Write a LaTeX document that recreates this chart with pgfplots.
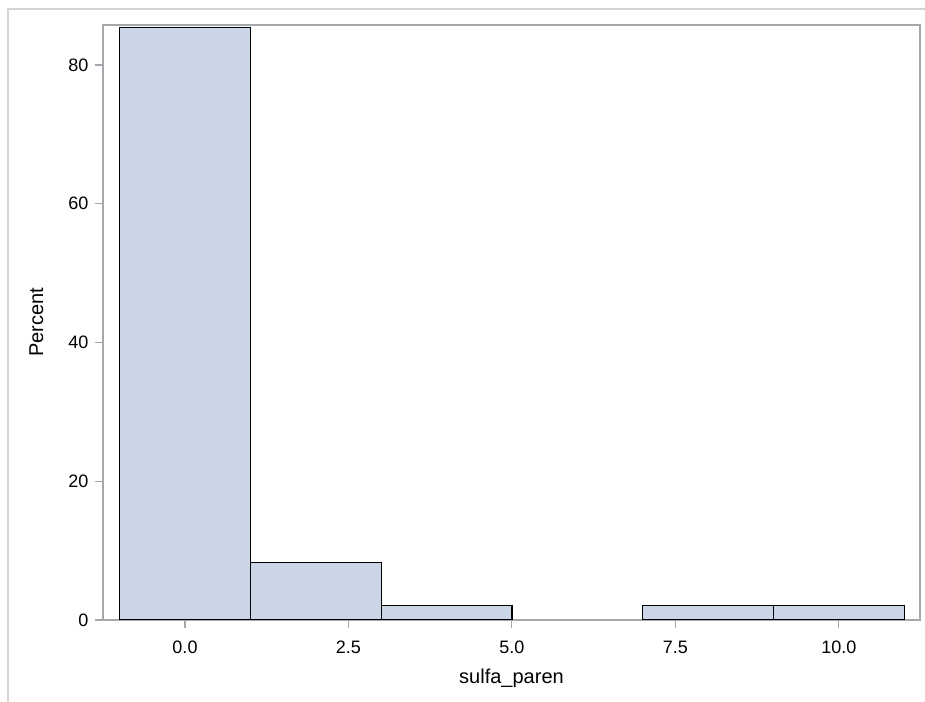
\documentclass[border=0pt]{standalone}
\usepackage{pgfplots}
\pgfplotsset{compat=1.18}
\usepackage{fontspec}
\setmainfont{Liberation Sans}
\definecolor{barfill}{HTML}{CAD5E5}
\definecolor{framecol}{HTML}{A4A8AC}
\definecolor{outer}{HTML}{D4D4D4}
\begin{document}
\begin{tikzpicture}
\useasboundingbox (0pt,0pt) rectangle (693.75pt,526.5pt);
\draw[outer, line width=1.2pt] (5.25pt,519.75pt) -- (693.75pt,519.75pt);
\draw[outer, line width=1.2pt] (6pt,0pt) -- (6pt,519.75pt);
\begin{axis}[
  at={(77.25pt,61.5pt)}, anchor=south west,
  scale only axis, width=612.75pt, height=446.25pt,
  xmin=-1.254, xmax=11.24, ymin=0, ymax=85.77,
  xtick={0,2.5,5,7.5,10}, ytick={0,20,40,60,80},
  xtick pos=bottom, ytick pos=left,
  tick align=outside, major tick length=6pt,
  every tick/.style={framecol, line width=0.8pt},
  axis line style={framecol, line width=1pt},
  /pgf/number format/assume math mode=true,
  xticklabel style={yshift=-6pt, /pgf/number format/.cd, fixed, fixed zerofill, precision=1},
  yticklabel style={xshift=-1.5pt, /pgf/number format/.cd, fixed, precision=0},
  xlabel={sulfa\_paren}, ylabel={Percent},
  xlabel style={at={(axis description cs:0.5,-0.1059)}, anchor=base},
  ylabel style={at={(axis description cs:-0.0734,0.5)}, anchor=base},
  tick label style={font=\fontsize{13.5}{16}\selectfont},
  label style={font=\fontsize{15}{18}\selectfont},
]
\addplot[ybar, bar width=2, bar shift=0pt, fill=barfill, draw=black, line width=1pt]
  coordinates {(0,85.417) (2,8.333) (4,2.083) (8,2.083) (10,2.083)};
\end{axis}
\end{tikzpicture}
\end{document}
